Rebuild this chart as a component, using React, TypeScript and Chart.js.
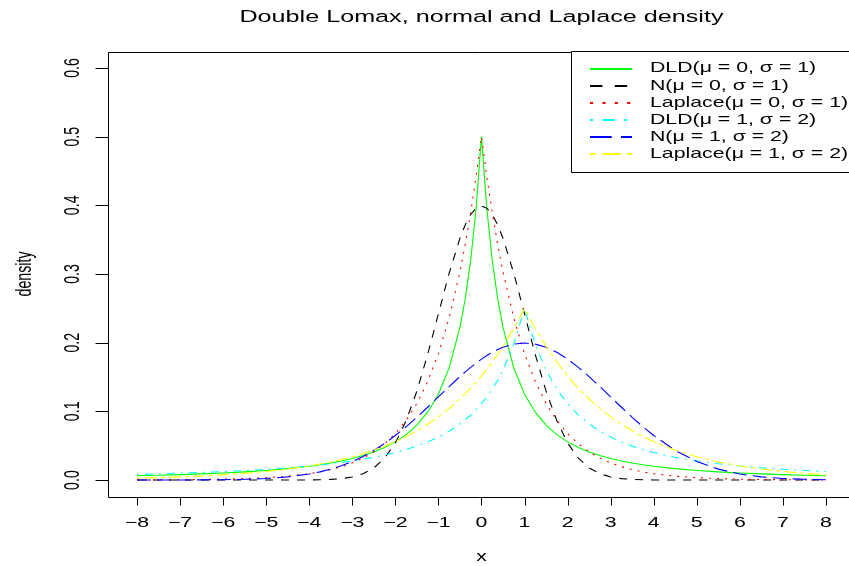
import { useEffect, useRef } from "react";
import { Chart, registerables } from "chart.js";

Chart.register(...registerables);

const xs = [-8, -7.5, -7, -6.5, -6, -5.5, -5, -4.5, -4, -3.75, -3.5, -3.25, -3, -2.75, -2.5, -2.25, -2, -1.75, -1.5, -1.25, -1, -0.75, -0.5, -0.375, -0.25, -0.125, 0, 0.125, 0.25, 0.375, 0.5, 0.75, 1, 1.25, 1.5, 1.75, 2, 2.25, 2.5, 2.75, 3, 3.25, 3.5, 3.75, 4, 4.5, 5, 5.5, 6, 6.5, 7, 7.5, 8];

const dld01 = [0.00617, 0.00692, 0.00781, 0.00889, 0.0102, 0.01183, 0.01389, 0.01653, 0.02, 0.02216, 0.02469, 0.02768, 0.03125, 0.03556, 0.04082, 0.04734, 0.05556, 0.06612, 0.08, 0.09877, 0.125, 0.16327, 0.22222, 0.26446, 0.32, 0.39506, 0.5, 0.39506, 0.32, 0.26446, 0.22222, 0.16327, 0.125, 0.09877, 0.08, 0.06612, 0.05556, 0.04734, 0.04082, 0.03556, 0.03125, 0.02768, 0.02469, 0.02216, 0.02, 0.01653, 0.01389, 0.01183, 0.0102, 0.00889, 0.00781, 0.00692, 0.00617];

const norm01 = [0, 0, 0, 0, 0, 0, 0, 0.00002, 0.00013, 0.00035, 0.00087, 0.00203, 0.00443, 0.00909, 0.01753, 0.03174, 0.05399, 0.08628, 0.12952, 0.18265, 0.24197, 0.30114, 0.35207, 0.37186, 0.38667, 0.39584, 0.39894, 0.39584, 0.38667, 0.37186, 0.35207, 0.30114, 0.24197, 0.18265, 0.12952, 0.08628, 0.05399, 0.03174, 0.01753, 0.00909, 0.00443, 0.00203, 0.00087, 0.00035, 0.00013, 0.00002, 0, 0, 0, 0, 0, 0, 0];

const lap01 = [0.00017, 0.00028, 0.00046, 0.00075, 0.00124, 0.00204, 0.00337, 0.00555, 0.00916, 0.01176, 0.0151, 0.01939, 0.02489, 0.03196, 0.04104, 0.0527, 0.06767, 0.08689, 0.11157, 0.14325, 0.18394, 0.23618, 0.30327, 0.34365, 0.3894, 0.44125, 0.5, 0.44125, 0.3894, 0.34365, 0.30327, 0.23618, 0.18394, 0.14325, 0.11157, 0.08689, 0.06767, 0.0527, 0.04104, 0.03196, 0.02489, 0.01939, 0.0151, 0.01176, 0.00916, 0.00555, 0.00337, 0.00204, 0.00124, 0.00075, 0.00046, 0.00028, 0.00017];

const dld12 = [0.00826, 0.00907, 0.01, 0.01108, 0.01235, 0.01384, 0.01563, 0.01778, 0.02041, 0.02195, 0.02367, 0.0256, 0.02778, 0.03025, 0.03306, 0.03628, 0.04, 0.04432, 0.04938, 0.05536, 0.0625, 0.07111, 0.08163, 0.08779, 0.09467, 0.1024, 0.11111, 0.12098, 0.13223, 0.14512, 0.16, 0.19753, 0.25, 0.19753, 0.16, 0.13223, 0.11111, 0.09467, 0.08163, 0.07111, 0.0625, 0.05536, 0.04938, 0.04432, 0.04, 0.03306, 0.02778, 0.02367, 0.02041, 0.01778, 0.01563, 0.01384, 0.01235];

const norm12 = [0.00001, 0.00002, 0.00007, 0.00018, 0.00044, 0.00101, 0.00222, 0.00455, 0.00876, 0.01188, 0.01587, 0.02086, 0.027, 0.03439, 0.04314, 0.05327, 0.06476, 0.07751, 0.09132, 0.10594, 0.12099, 0.13603, 0.15057, 0.15749, 0.16408, 0.17028, 0.17603, 0.18127, 0.18593, 0.18996, 0.19333, 0.19792, 0.19947, 0.19792, 0.19333, 0.18593, 0.17603, 0.16408, 0.15057, 0.13603, 0.12099, 0.10594, 0.09132, 0.07751, 0.06476, 0.04314, 0.027, 0.01587, 0.00876, 0.00455, 0.00222, 0.00101, 0.00044];

const lap12 = [0.00278, 0.00357, 0.00458, 0.00588, 0.00755, 0.00969, 0.01245, 0.01598, 0.02052, 0.02325, 0.02635, 0.02986, 0.03383, 0.03834, 0.04344, 0.04923, 0.05578, 0.06321, 0.07163, 0.08116, 0.09197, 0.10422, 0.11809, 0.12571, 0.13382, 0.14245, 0.15163, 0.16141, 0.17182, 0.1829, 0.1947, 0.22062, 0.25, 0.22062, 0.1947, 0.17182, 0.15163, 0.13382, 0.11809, 0.10422, 0.09197, 0.08116, 0.07163, 0.06321, 0.05578, 0.04344, 0.03383, 0.02635, 0.02052, 0.01598, 0.01245, 0.00969, 0.00755];

const seriesLabels = [
  "DLD(\u03bc = 0, \u03c3 = 1)",
  "N(\u03bc = 0, \u03c3 = 1)",
  "Laplace(\u03bc = 0, \u03c3 = 1)",
  "DLD(\u03bc = 1, \u03c3 = 2)",
  "N(\u03bc = 1, \u03c3 = 2)",
  "Laplace(\u03bc = 1, \u03c3 = 2)",
];
const seriesValues = [dld01, norm01, lap01, dld12, norm12, lap12];
const seriesColors = ["#00ff00", "#000000", "#ff0000", "#00ffff", "#0000ff", "#ffff00"];
// R line types in units: solid, "44", "13", "1343", "73", "2262"
const seriesDash = [[], [4, 4], [1, 3], [1, 3, 4, 3], [7, 3], [2, 2, 6, 2]];

const xTicks = [-8, -7, -6, -5, -4, -3, -2, -1, 0, 1, 2, 3, 4, 5, 6, 7, 8];
const xTickLabels = ["\u22128", "\u22127", "\u22126", "\u22125", "\u22124", "\u22123", "\u22122", "\u22121", "0", "1", "2", "3", "4", "5", "6", "7", "8"];
const yTicks = [0, 0.1, 0.2, 0.3, 0.4, 0.5, 0.6];
const yTickLabels = ["0.0", "0.1", "0.2", "0.3", "0.4", "0.5", "0.6"];

const titleText = "Double Lomax, normal and Laplace density";
const xTitle = "x";
const yTitle = "density";

const SX = 1.5; // horizontal stretch of the reference text
const FONT = '"Liberation Sans", Arial, Helvetica, sans-serif';

function drawText(
  ctx: CanvasRenderingContext2D,
  text: string,
  x: number,
  y: number,
  size: number,
  rotate = false,
  align: CanvasTextAlign = "center"
) {
  ctx.save();
  ctx.translate(x, y);
  if (rotate) {
    ctx.rotate(-Math.PI / 2);
    ctx.scale(1, SX);
  } else {
    ctx.scale(SX, 1);
  }
  ctx.font = `${size}px ${FONT}`;
  ctx.textAlign = align;
  ctx.textBaseline = "middle";
  ctx.fillStyle = "#000";
  ctx.fillText(text, 0, 0);
  ctx.restore();
}

const decorPlugin = {
  id: "rdecor",
  afterDatasetsDraw(chart: any) {
    const ctx: CanvasRenderingContext2D = chart.ctx;
    const ca = chart.chartArea;
    const xs_ = chart.scales.x;
    const ys_ = chart.scales.y;
    const L = Math.round(ca.left) - 0.5;
    const T = Math.round(ca.top) + 0.5;
    const B = Math.round(ca.bottom) + 0.5;
    ctx.save();
    ctx.strokeStyle = "#000";
    ctx.lineWidth = 1;
    ctx.setLineDash([]);
    ctx.beginPath();
    ctx.moveTo(chart.width + 5, T);
    ctx.lineTo(L, T);
    ctx.lineTo(L, B);
    ctx.lineTo(chart.width + 5, B);
    ctx.stroke();

    ctx.beginPath();
    xTicks.forEach((v) => {
      const px = Math.round(xs_.getPixelForValue(v)) + 0.5;
      ctx.moveTo(px, B);
      ctx.lineTo(px, B + 8);
    });
    yTicks.forEach((v) => {
      const py = Math.round(ys_.getPixelForValue(v)) + 0.5;
      ctx.moveTo(L, py);
      ctx.lineTo(L - 13, py);
    });
    ctx.stroke();

    xTicks.forEach((v, i) => {
      drawText(ctx, xTickLabels[i], xs_.getPixelForValue(v), 523, 14.2);
    });
    yTicks.forEach((v, i) => {
      drawText(ctx, yTickLabels[i], 73, ys_.getPixelForValue(v), 14.2, true);
    });

    const cx = (ca.left + xs_.getPixelForValue(8.64)) / 2;
    drawText(ctx, titleText, cx, 17, 16.8);
    drawText(ctx, xTitle, cx, 557, 14.2);
    drawText(ctx, yTitle, 25, (ca.top + ca.bottom) / 2, 14.2, true);

    const lx = 571.5;
    const ly = 51.5;
    const lb = 172.5;
    ctx.fillStyle = "#fff";
    ctx.fillRect(lx, ly, chart.width - lx + 5, lb - ly);
    ctx.beginPath();
    ctx.strokeStyle = "#000";
    ctx.lineWidth = 1;
    ctx.moveTo(chart.width + 5, ly);
    ctx.lineTo(lx, ly);
    ctx.lineTo(lx, lb);
    ctx.lineTo(chart.width + 5, lb);
    ctx.stroke();
    seriesLabels.forEach((lab, i) => {
      const ry = 68.5 + i * 17.1;
      ctx.save();
      ctx.strokeStyle = seriesColors[i];
      ctx.lineWidth = 2;
      ctx.lineCap = "butt";
      ctx.setLineDash(seriesDash[i].map((d) => d * 3.1));
      ctx.beginPath();
      ctx.moveTo(590, Math.round(ry));
      ctx.lineTo(632, Math.round(ry));
      ctx.stroke();
      ctx.restore();
      drawText(ctx, lab, 650, ry, 14.2, false, "left");
    });
    ctx.restore();
  },
};

export default function App() {
  const ref = useRef<HTMLCanvasElement>(null);
  useEffect(() => {
    document.body.style.margin = "0";
    const canvas = ref.current!;
    const datasets = seriesLabels.map((label, i) => ({
      label,
      data: xs.map((x, j) => ({ x, y: seriesValues[i][j] })),
      borderColor: seriesColors[i],
      backgroundColor: seriesColors[i],
      borderWidth: 1.1,
      borderDash: seriesDash[i].map((d) => d * 2),
      pointRadius: 0,
      tension: 0,
      fill: false,
      order: 6 - i,
    }));
    const chart = new Chart(canvas, {
      type: "line",
      data: { datasets },
      options: {
        responsive: false,
        animation: false,
        devicePixelRatio: 1,
        layout: { padding: { left: 109.4, top: 51.5, right: 0, bottom: 69.5 } },
        plugins: { legend: { display: false }, tooltip: { enabled: false }, title: { display: false } },
        scales: {
          x: { type: "linear", min: -8.64, max: -8.64 + (849 - 109.4) / 43.0625, display: false },
          y: { type: "linear", min: -0.024, max: 0.624, display: false },
        },
      },
      plugins: [decorPlugin],
    });
    return () => chart.destroy();
  }, []);
  return <canvas ref={ref} width={849} height={566} style={{ display: "block" }} />;
}
